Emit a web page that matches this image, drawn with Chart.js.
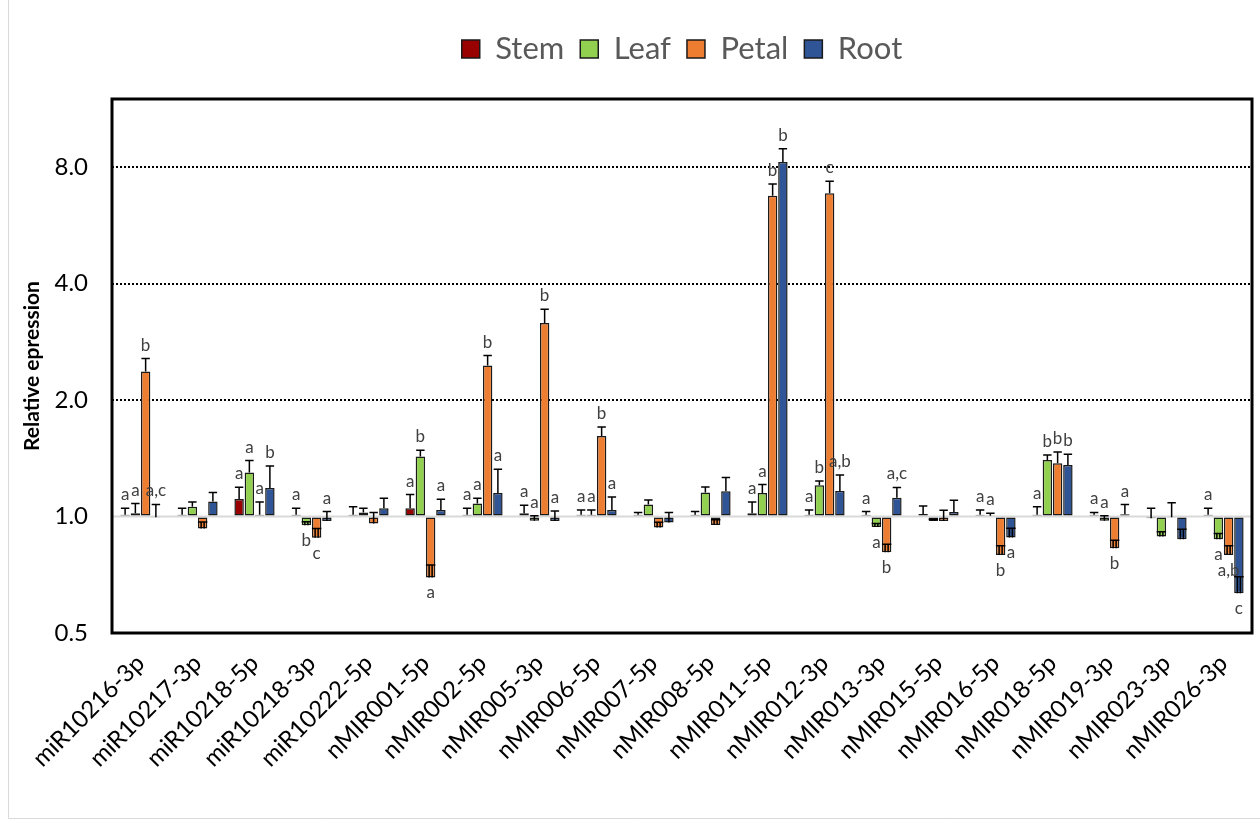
<!DOCTYPE html>
<html>
<head>
<meta charset="utf-8">
<script src="https://cdn.jsdelivr.net/npm/chart.js@4.4.1/dist/chart.umd.min.js"></script>
<style>
  html, body { margin: 0; padding: 0; background: #fff; }
  canvas { display: block; }
</style>
</head>
<body>
<canvas id="chart" width="1260" height="823"></canvas>
<script>
// miRNA names along the x axis
const categories = [
  'miR10216-3p', 'miR10217-3p', 'miR10218-5p', 'miR10218-3p', 'miR10222-5p',
  'nMIR001-5p', 'nMIR002-5p', 'nMIR005-3p', 'nMIR006-5p', 'nMIR007-5p',
  'nMIR008-5p', 'nMIR011-5p', 'nMIR012-3p', 'nMIR013-3p', 'nMIR015-5p',
  'nMIR016-5p', 'nMIR018-5p', 'nMIR019-3p', 'nMIR023-3p', 'nMIR026-3p'
];

// Relative expression (fold change) per tissue, with standard deviations
const stemMean  = [1.01, 1.01, 1.11, 1.01, 1.01, 1.05, 1.01, 1.02, 1.01, 1.01, 1.01, 1.02, 1.01, 1.01, 1.015, 1.01, 1.01, 1.01, 0.99, 1.01];
const stemSd    = [0.04, 0.04, 0.08, 0.04, 0.05, 0.09, 0.04, 0.05, 0.03, 0.015, 0.02, 0.07, 0.03, 0.02, 0.05, 0.03, 0.05, 0.015, 0.06, 0.04];
const leafMean  = [1.02, 1.06, 1.30, 0.95, 1.024, 1.43, 1.08, 0.975, 1.01, 1.074, 1.153, 1.15, 1.204, 0.94, 0.974, 1.005, 1.40, 0.975, 0.888, 0.874];
const leafSd    = [0.06, 0.03, 0.095, 0.02, 0.026, 0.053, 0.035, 0.03, 0.03, 0.03, 0.04, 0.06, 0.032, 0.02, 0.01, 0.015, 0.042, 0.03, 0.025, 0.03];
const petalMean = [2.37, 0.931, 1.01, 0.881, 0.959, 0.696, 2.457, 3.166, 1.614, 0.937, 0.951, 6.75, 6.85, 0.808, 0.974, 0.795, 1.373, 0.828, 0.995, 0.795];
const petalSd   = [0.19, 0.037, 0.08, 0.05, 0.065, 0.053, 0.15, 0.27, 0.09, 0.03, 0.03, 0.49, 0.51, 0.04, 0.064, 0.045, 0.095, 0.04, 0.09, 0.045];
const rootMean  = [0.995, 1.093, 1.185, 0.974, 1.05, 1.04, 1.15, 0.974, 1.04, 0.965, 1.162, 8.25, 1.164, 1.119, 1.028, 0.883, 1.359, 1.014, 0.874, 0.633];
const rootSd    = [0.08, 0.06, 0.166, 0.056, 0.065, 0.068, 0.174, 0.06, 0.083, 0.06, 0.10, 0.68, 0.116, 0.07, 0.074, 0.05, 0.09, 0.06, 0.053, 0.066];

// Significance groups printed next to each bar
const stemSig  = ['a', '', 'a', 'a', '', 'a', 'a', 'a', 'a', '', '', 'a', 'a', 'a', '', 'a', 'a', 'a', '', 'a'];
const leafSig  = ['a', '', 'a', 'b', '', 'b', 'a', 'a', 'a', '', '', 'a', 'b', 'a', '', 'a', 'b', 'a', '', 'a'];
const petalSig = ['b', '', 'a', 'c', '', 'a', 'b', 'b', 'b', '', '', 'b', 'c', 'b', '', 'b', 'b', 'b', '', 'a,b'];
const rootSig  = ['a,c', '', 'b', 'a', '', 'a', 'a', 'a', 'a', '', '', 'b', 'a,b', 'a,c', '', 'a', 'b', 'a', '', 'c'];

// Log2 axis: tick values and range
const yTicks = [0.5, 1, 2, 4, 8];
const yMin = 0.5;
const yMax = 12;

const FONT = 'Lato, "Open Sans", sans-serif';

const series = [
  { label: 'Stem',  mean: stemMean,  sd: stemSd,  sig: stemSig,  color: '#990000' },
  { label: 'Leaf',  mean: leafMean,  sd: leafSd,  sig: leafSig,  color: '#92D050' },
  { label: 'Petal', mean: petalMean, sd: petalSd, sig: petalSig, color: '#ED7D31' },
  { label: 'Root',  mean: rootMean,  sd: rootSd,  sig: rootSig,  color: '#2F5597' }
];

const decor = {
  id: 'decor',
  beforeLayout(chart) {
    // extra room between the legend row and the plot frame
    const lg = chart.legend;
    if (lg && !lg._gapPatched) {
      const fit = lg.fit;
      lg.fit = function () { fit.call(this); this.height += 24.5; };
      lg._gapPatched = true;
    }
  },
  beforeDraw(chart) {
    const { ctx, width, height } = chart;
    ctx.save();
    ctx.fillStyle = '#fff';
    ctx.fillRect(0, 0, width, height);
    ctx.strokeStyle = '#d9d9d9';
    ctx.lineWidth = 1;
    ctx.beginPath();
    ctx.moveTo(8.5, 0);
    ctx.lineTo(8.5, 818.5);
    ctx.lineTo(width, 818.5);
    ctx.stroke();
    ctx.restore();
  },
  beforeDatasetsDraw(chart) {
    const { ctx, chartArea } = chart;
    const y = chart.scales.y.getPixelForValue(0);
    ctx.save();
    ctx.strokeStyle = '#d9d9d9';
    ctx.lineWidth = 2;
    ctx.beginPath();
    ctx.moveTo(chartArea.left, y);
    ctx.lineTo(chartArea.right, y);
    ctx.stroke();
    ctx.restore();
  },
  afterDatasetsDraw(chart) {
    const { ctx } = chart;
    const ys = chart.scales.y;
    const base = ys.getPixelForValue(0);
    ctx.save();
    ctx.strokeStyle = '#000';
    ctx.lineWidth = 1.5;
    series.forEach((s, i) => {
      const meta = chart.getDatasetMeta(i);
      meta.data.forEach((bar, j) => {
        const v = s.mean[j];
        const top = v + s.sd[j];
        const x = bar.x;
        const w = bar.width;
        const yEnd = ys.getPixelForValue(Math.log2(v));
        const yErr = ys.getPixelForValue(Math.log2(top));
        const inside = v < 1 && yErr > base;
        ctx.beginPath();
        if (inside) {
          ctx.moveTo(x - 1.5, yEnd); ctx.lineTo(x - 1.5, yErr);
          ctx.moveTo(x + 1.5, yEnd); ctx.lineTo(x + 1.5, yErr);
          ctx.moveTo(x - w / 2, yErr); ctx.lineTo(x + w / 2, yErr);
        } else {
          ctx.moveTo(x, yEnd); ctx.lineTo(x, yErr);
          ctx.moveTo(x - (w - 1) / 2, yErr); ctx.lineTo(x + (w - 1) / 2, yErr);
        }
        ctx.stroke();

        const txt = s.sig[j];
        if (txt) {
          ctx.fillStyle = '#404040';
          ctx.font = '17px ' + FONT;
          ctx.textAlign = 'center';
          ctx.textBaseline = 'alphabetic';
          if (top > 1) {
            ctx.fillText(txt, x, Math.min(yErr, yEnd) - 8);
          } else {
            ctx.fillText(txt, x, yEnd + 21);
          }
        }
      });
    });
    ctx.restore();
  },
  afterDraw(chart) {
    const { ctx, chartArea: a } = chart;
    ctx.save();
    ctx.strokeStyle = '#000';
    ctx.lineWidth = 3;
    ctx.strokeRect(a.left, a.top, a.right - a.left, a.bottom - a.top);
    ctx.restore();
  }
};

new Chart(document.getElementById('chart'), {
  type: 'bar',
  data: {
    labels: categories,
    datasets: series.map(s => ({
      label: s.label,
      data: s.mean.map(v => Math.log2(v)),
      backgroundColor: s.color,
      borderColor: '#1a1a1a',
      borderWidth: 1.5,
      borderSkipped: false,
      categoryPercentage: 0.72,
      barPercentage: 0.92
    }))
  },
  options: {
    responsive: false,
    animation: false,
    devicePixelRatio: 1,
    layout: { padding: { top: 17.5, left: 0, right: 8, bottom: 0 } },
    plugins: {
      tooltip: { enabled: false },
      legend: {
        position: 'top',
        fullSize: false,
        labels: {
          font: { family: FONT, size: 31 },
          color: '#595959',
          boxWidth: 18,
          boxHeight: 18,
          padding: 16
        }
      }
    },
    scales: {
      x: {
        type: 'category',
        grid: { display: false },
        border: { display: false },
        ticks: {
          font: { family: FONT, size: 24 },
          color: '#000',
          minRotation: 45,
          maxRotation: 45,
          autoSkip: false,
          padding: 8
        },
        afterFit(scale) {
          scale.height = 190;
          scale.paddingLeft = 0;
          scale.paddingRight = 0;
        }
      },
      y: {
        type: 'linear',
        min: Math.log2(yMin),
        max: Math.log2(yMax),
        afterBuildTicks(scale) {
          scale.ticks = yTicks.map(v => ({ value: Math.log2(v) }));
        },
        afterFit(scale) { scale.width = 112; },
        ticks: {
          font: { family: FONT, size: 24 },
          color: '#000',
          padding: 24,
          callback: v => Math.pow(2, v).toFixed(1)
        },
        grid: {
          drawTicks: false,
          lineWidth: 2,
          color: c => (c.tick && c.tick.value > 0.5 ? '#000' : 'rgba(0,0,0,0)')
        },
        border: { display: false, dash: [2, 2] },
        title: {
          display: true,
          text: 'Relative epression',
          font: { family: FONT, size: 21, weight: 'bold' },
          color: '#000',
          padding: { top: 20, bottom: 0 }
        }
      }
    }
  },
  plugins: [decor]
});
</script>
</body>
</html>
